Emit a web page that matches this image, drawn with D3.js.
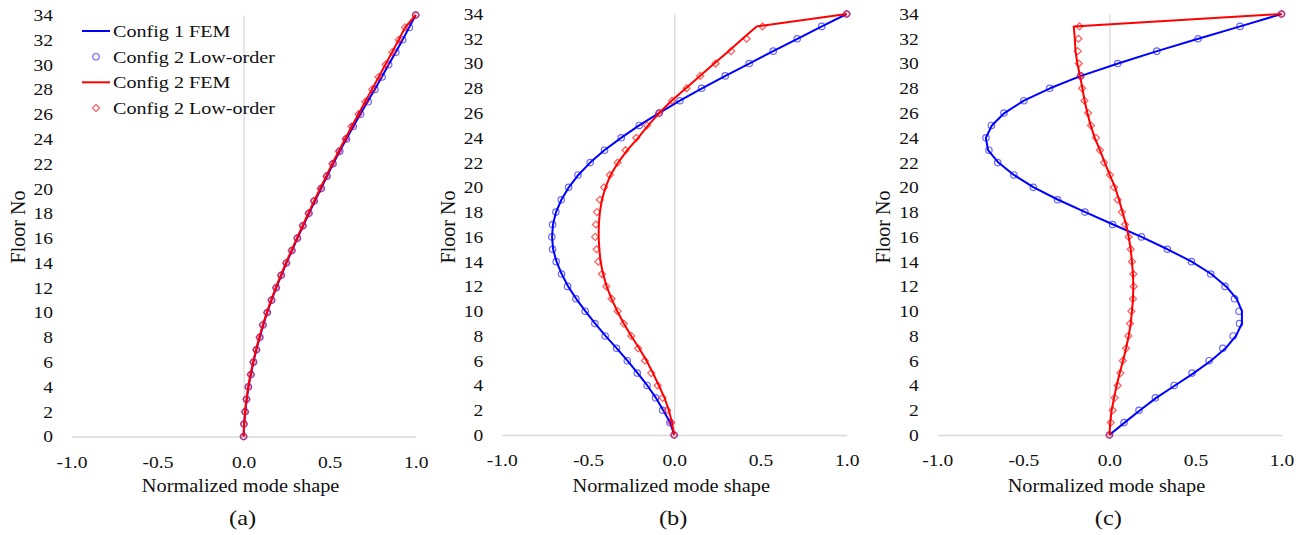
<!DOCTYPE html>
<html>
<head>
<meta charset="utf-8">
<script src="https://cdn.jsdelivr.net/npm/d3@7"></script>
<style>
  html, body { margin: 0; padding: 0; background: #fff; }
  svg { display: block; }
  svg text { font-family: "Liberation Serif", "DejaVu Serif", serif !important; fill: #111; }
</style>
</head>
<body>
<svg id="chart" width="1309" height="535"></svg>
<script>
// Floor numbers (0 = base, 34 = roof)
const floors = [0,1,2,3,4,5,6,7,8,9,10,11,12,13,14,15,16,17,18,19,20,21,22,23,24,25,26,27,28,29,30,31,32,33,34];

// Tick values / labels
const xTickValues = [-1.0, -0.5, 0.0, 0.5, 1.0];
const yTickValues = [0,2,4,6,8,10,12,14,16,18,20,22,24,26,28,30,32,34];
const seriesNames = ["Config 1 FEM", "Config 2 Low-order", "Config 2 FEM", "Config 2 Low-order"];
const panelLabels = ["(a)", "(b)", "(c)"];
const xTitle = "Normalized mode shape";
const yTitle = "Floor No";

// Mode 1
const mode1Cfg1Fem = [0,0.003,0.01,0.018,0.028,0.042,0.057,0.074,0.094,0.114,0.137,0.162,0.19,0.219,0.249,0.281,0.313,0.346,0.38,0.414,0.45,0.485,0.52,0.558,0.597,0.637,0.678,0.72,0.762,0.803,0.843,0.884,0.924,0.962,1.0];
const mode1Cfg1Low = [0,0.002,0.009,0.017,0.028,0.043,0.058,0.075,0.095,0.113,0.138,0.163,0.19,0.219,0.249,0.281,0.313,0.345,0.38,0.41,0.452,0.485,0.52,0.559,0.598,0.637,0.68,0.724,0.763,0.805,0.843,0.885,0.924,0.963,1.0];
const mode1Cfg2Fem = [0,0.003,0.009,0.017,0.027,0.04,0.055,0.072,0.091,0.112,0.135,0.16,0.187,0.216,0.246,0.278,0.31,0.343,0.376,0.41,0.445,0.48,0.515,0.552,0.59,0.628,0.667,0.706,0.746,0.785,0.824,0.863,0.901,0.939,1.0];
const mode1Cfg2Low = [0,0.002,0.008,0.016,0.027,0.041,0.056,0.073,0.092,0.111,0.136,0.161,0.188,0.217,0.247,0.279,0.311,0.344,0.377,0.409,0.447,0.481,0.516,0.553,0.592,0.627,0.668,0.707,0.747,0.784,0.825,0.864,0.901,0.938,1.0];

// Mode 2
const mode2Cfg1Fem = [0,-0.023,-0.064,-0.106,-0.156,-0.212,-0.271,-0.333,-0.398,-0.458,-0.515,-0.568,-0.615,-0.652,-0.682,-0.702,-0.708,-0.703,-0.685,-0.654,-0.611,-0.556,-0.487,-0.405,-0.308,-0.203,-0.088,0.033,0.161,0.297,0.435,0.574,0.714,0.856,1.0];
const mode2Cfg1Low = [0,-0.025,-0.067,-0.108,-0.157,-0.214,-0.272,-0.334,-0.4,-0.46,-0.516,-0.57,-0.618,-0.653,-0.684,-0.705,-0.709,-0.705,-0.686,-0.655,-0.612,-0.558,-0.487,-0.404,-0.307,-0.203,-0.087,0.033,0.159,0.296,0.435,0.574,0.713,0.855,1.0];
const mode2Cfg2Fem = [0,-0.013,-0.031,-0.056,-0.089,-0.123,-0.16,-0.203,-0.249,-0.292,-0.33,-0.363,-0.392,-0.412,-0.427,-0.434,-0.438,-0.437,-0.431,-0.419,-0.398,-0.369,-0.325,-0.272,-0.209,-0.151,-0.087,-0.015,0.068,0.149,0.232,0.315,0.396,0.478,1.0];
const mode2Cfg2Low = [0,-0.017,-0.041,-0.067,-0.096,-0.133,-0.17,-0.209,-0.249,-0.292,-0.328,-0.363,-0.394,-0.419,-0.44,-0.45,-0.458,-0.454,-0.448,-0.431,-0.406,-0.373,-0.328,-0.282,-0.22,-0.158,-0.087,-0.012,0.072,0.151,0.24,0.33,0.42,0.512,1.0];

// Mode 3
const mode3Cfg1Fem = [0,0.088,0.178,0.272,0.381,0.49,0.59,0.675,0.735,0.77,0.77,0.74,0.678,0.592,0.478,0.338,0.186,0.022,-0.14,-0.298,-0.44,-0.555,-0.645,-0.705,-0.718,-0.683,-0.61,-0.497,-0.345,-0.165,0.05,0.277,0.516,0.76,1.0];
const mode3Cfg1Low = [0,0.085,0.172,0.267,0.376,0.48,0.579,0.659,0.719,0.756,0.753,0.727,0.672,0.589,0.477,0.337,0.186,0.019,-0.142,-0.301,-0.442,-0.555,-0.649,-0.7,-0.717,-0.686,-0.613,-0.497,-0.347,-0.167,0.048,0.275,0.515,0.759,1.0];
const mode3Cfg2Fem = [0,0.005,0.013,0.027,0.042,0.06,0.079,0.097,0.112,0.124,0.131,0.137,0.139,0.137,0.131,0.124,0.112,0.097,0.076,0.056,0.033,0.002,-0.027,-0.055,-0.085,-0.109,-0.128,-0.144,-0.157,-0.171,-0.186,-0.197,-0.201,-0.207,1.0];
const mode3Cfg2Low = [0,0.008,0.019,0.031,0.048,0.064,0.078,0.097,0.11,0.12,0.128,0.137,0.141,0.139,0.131,0.124,0.112,0.091,0.072,0.048,0.027,0.003,-0.031,-0.055,-0.078,-0.107,-0.124,-0.145,-0.159,-0.167,-0.178,-0.184,-0.18,-0.174,1.0];

const modes = [
  [mode1Cfg1Fem, mode1Cfg1Low, mode1Cfg2Fem, mode1Cfg2Low],
  [mode2Cfg1Fem, mode2Cfg1Low, mode2Cfg2Fem, mode2Cfg2Low],
  [mode3Cfg1Fem, mode3Cfg1Low, mode3Cfg2Fem, mode3Cfg2Low]
];

// ---- layout & style ----
const layout = [
  { left: 71.5,  right: 415.7,  bottom: 436.5, top: 15 },
  { left: 501.7, right: 846.7,  bottom: 435,   top: 14 },
  { left: 937.3, right: 1281.5, bottom: 435,   top: 14 }
];
const BLUE = "#0000ff", RED = "#ff0000", AXIS = "#d9d9d9";
const SERIF = "Liberation Serif";
const TICK_SX = 1.22, TITLE_SX = 1.13, LEG_SX = 1.15;

const svg = d3.select("#chart");

function stretchedText(g, x, y, str, size, sx, anchor) {
  return g.append("text")
    .attr("transform", `translate(${x},${y}) scale(${sx},1)`)
    .attr("text-anchor", anchor || "middle")
    .attr("font-family", SERIF)
    .style("font-size", size + "px")
    .text(str);
}

function diamondPath(cx, cy, r) {
  return `M${cx},${cy - r}L${cx + r},${cy}L${cx},${cy + r}L${cx - r},${cy}Z`;
}

layout.forEach((L, pi) => {
  const g = svg.append("g");
  const x = d3.scaleLinear().domain([-1, 1]).range([L.left, L.right]);
  const y = d3.scaleLinear().domain([0, 34]).range([L.bottom, L.top]);

  // horizontal axis along floor 0
  const xAxisG = g.append("g")
    .attr("transform", `translate(0,${y(0)})`)
    .call(d3.axisBottom(x).tickValues(xTickValues).tickSize(0).tickFormat(d => d3.format(".1f")(d).replace("−", "-")))
    .attr("font-family", SERIF).attr("font-size", 16);
  xAxisG.select(".domain").attr("stroke", AXIS).attr("stroke-width", 1.3);
  xAxisG.selectAll(".tick text")
    .attr("y", 0).attr("dy", 0)
    .attr("transform", `translate(0,31) scale(${TICK_SX},1)`)
    .attr("fill", "#111");

  // vertical axis line through x = 0
  const zeroAxis = g.append("g")
    .attr("transform", `translate(${x(0)},0)`)
    .call(d3.axisLeft(y).tickValues([]).tickSizeOuter(0));
  zeroAxis.select(".domain").attr("stroke", AXIS).attr("stroke-width", 1.3);

  // floor tick labels at the left edge
  const yAxisG = g.append("g")
    .attr("transform", `translate(${L.left},0)`)
    .call(d3.axisLeft(y).tickValues(yTickValues).tickSize(0))
    .attr("font-family", SERIF).attr("font-size", 16);
  yAxisG.select(".domain").remove();
  yAxisG.selectAll(".tick text")
    .attr("x", 0).attr("dy", "0.34em")
    .attr("transform", `translate(-18.5,0) scale(${TICK_SX},1)`)
    .attr("fill", "#111");

  // titles
  const cx = (L.left + L.right) / 2;
  stretchedText(g, cx - 3, 492, xTitle, 18, TITLE_SX);
  stretchedText(g, cx - 1, 525, panelLabels[pi], 20, TICK_SX);
  g.append("text")
    .attr("transform", `translate(${L.left - 47},227) rotate(-90)`)
    .attr("text-anchor", "middle")
    .attr("font-family", SERIF)
    .style("font-size", "20px")
    .text(yTitle);

  const [c1Fem, c1Low, c2Fem, c2Low] = modes[pi];
  const line = d3.line().x(d => x(d[1])).y(d => y(d[0]));

  // Config 1 FEM
  g.append("path")
    .datum(floors.map((f, i) => [f, c1Fem[i]]))
    .attr("d", line).attr("fill", "none")
    .attr("stroke", BLUE).attr("stroke-width", 2).attr("stroke-linejoin", "round");

  // Config 1 low-order (circles)
  g.append("g").selectAll("circle")
    .data(floors.map((f, i) => [f, c1Low[i]]))
    .join("circle")
    .attr("cx", d => x(d[1])).attr("cy", d => y(d[0])).attr("r", 3.2)
    .attr("fill", "none").attr("stroke", BLUE).attr("stroke-opacity", 0.6).attr("stroke-width", 1.2);

  // Config 2 FEM
  g.append("path")
    .datum(floors.map((f, i) => [f, c2Fem[i]]))
    .attr("d", line).attr("fill", "none")
    .attr("stroke", RED).attr("stroke-width", 2).attr("stroke-linejoin", "round");

  // Config 2 low-order (diamonds)
  g.append("g").selectAll("path")
    .data(floors.map((f, i) => [f, c2Low[i]]))
    .join("path")
    .attr("d", d => diamondPath(x(d[1]), y(d[0]), 3.5))
    .attr("fill", "none").attr("stroke", RED).attr("stroke-opacity", 0.65).attr("stroke-width", 1.2);
});

// ---- legend (inside the first panel) ----
const leg = svg.append("g");
const legRows = [31, 56.7, 82.3, 108];
seriesNames.forEach((name, i) => {
  const ry = legRows[i];
  if (i === 0 || i === 2) {
    leg.append("line").attr("x1", 82).attr("x2", 110).attr("y1", ry).attr("y2", ry)
      .attr("stroke", i === 0 ? BLUE : RED).attr("stroke-width", 2);
  } else if (i === 1) {
    leg.append("circle").attr("cx", 96).attr("cy", ry).attr("r", 3.2)
      .attr("fill", "none").attr("stroke", BLUE).attr("stroke-opacity", 0.6).attr("stroke-width", 1.2);
  } else {
    leg.append("path").attr("d", diamondPath(96, ry, 3.5))
      .attr("fill", "none").attr("stroke", RED).attr("stroke-opacity", 0.65).attr("stroke-width", 1.2);
  }
  stretchedText(leg, 113, ry + 6, name, 17.5, LEG_SX, "start");
});
</script>
</body>
</html>
